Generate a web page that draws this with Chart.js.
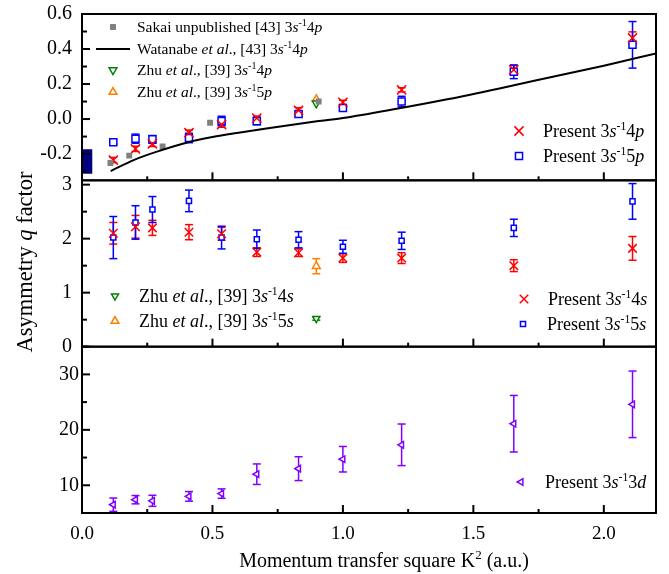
<!DOCTYPE html>
<html>
<head>
<meta charset="utf-8">
<script src="https://cdn.jsdelivr.net/npm/chart.js@4.4.0/dist/chart.umd.min.js"></script>
<style>
  body { margin: 0; background: #fff; }
  #wrap { width: 669px; height: 574px; }
</style>
</head>
<body>
<div id="wrap"><canvas id="chart" width="669" height="574"></canvas></div>
<script>
var FONT = '"Liberation Serif", "Times New Roman", serif';

// momentum transfer square K^2 (a.u.) of the present measurements
var kPresent = [0.12, 0.205, 0.27, 0.41, 0.535, 0.67, 0.83, 1.0, 1.225, 1.655, 2.11];

// top panel: 3s-1 np
var q4p = [-0.234, -0.17, -0.142, -0.078, -0.032, 0.005, 0.05, 0.095, 0.167, 0.281, 0.463];
var q4pErr = [0.015, 0.015, 0.015, 0.015, 0.015, 0.012, 0.015, 0.012, 0.012, 0.025, 0.035];
var q5p = [-0.133, -0.112, -0.116, -0.108, -0.011, -0.012, 0.029, 0.063, 0.1, 0.27, 0.424];
var q5pErr = [0.01, 0.026, 0.022, 0.027, 0.027, 0.02, 0.015, 0.01, 0.03, 0.039, 0.133];

var kSakai = [0.109, 0.181, 0.309, 0.491, 0.907];
var qSakai = [-0.251, -0.209, -0.156, -0.021, 0.1];

var kWatanabe = [0.11, 0.2, 0.3, 0.4, 0.5, 0.6, 0.7, 0.8, 0.9, 1.0, 1.2, 1.4, 1.6, 1.8, 2.0, 2.2];
var qWatanabe = [-0.297, -0.233, -0.18, -0.135, -0.103, -0.078, -0.055, -0.034, -0.013, 0.006, 0.057, 0.113, 0.175, 0.24, 0.305, 0.375];

var kZhu = [0.898];
var zhu4p = [0.09];
var zhu5p = [0.113];

// photoabsorption value at K^2 = 0 (range)
var kPhoto = [0.019];
var qPhotoRange = [[-0.31, -0.175]];

// middle panel: 3s-1 ns
var q4s = [2.1, 2.22, 2.2, 2.12, 2.09, 1.75, 1.74, 1.64, 1.64, 1.5, 1.82];
var q4sErr = [0.2, 0.21, 0.14, 0.14, 0.12, 0.08, 0.07, 0.08, 0.1, 0.11, 0.22];
var q5s = [2.02, 2.3, 2.54, 2.7, 2.02, 1.99, 1.98, 1.85, 1.96, 2.2, 2.69];
var q5sErr = [0.39, 0.31, 0.24, 0.2, 0.21, 0.17, 0.15, 0.12, 0.16, 0.16, 0.33];
var zhu4s = [0.52];
var zhu4sErr = [0.03];
var zhu5s = [1.49];
var zhu5sErr = [0.14];

// bottom panel: 3s-1 3d
var q3d = [6.5, 7.4, 7.2, 8.0, 8.5, 12.0, 13.0, 14.7, 17.3, 21.1, 24.6];
var q3dErr = [1.2, 0.75, 1.0, 0.87, 0.85, 1.85, 2.15, 2.3, 3.75, 5.1, 6.0];

var RED = '#ff0000', BLUE = '#0000ff', GRAY = '#808080', GREEN = '#008000',
    ORANGE = '#ff8000', VIOLET = '#8000ff', NAVY = '#000080';

function pts(xs, ys) {
    return xs.map(function (x, i) { return {x: x, y: ys[i]}; });
}

function marker(label, axis, xs, ys, color, style, radius, extra) {
    var ds = {
        type: 'scatter',
        label: label,
        yAxisID: axis,
        data: pts(xs, ys),
        borderColor: color,
        backgroundColor: '#fff',
        pointStyle: style,
        pointRadius: radius,
        pointBorderWidth: 1.5,
        pointRotation: 0
    };
    for (var k in extra) ds[k] = extra[k];
    return ds;
}

var datasets = [
    {
        type: 'bar', label: 'photo', yAxisID: 'yTop',
        data: kPhoto.map(function (x, i) { return {x: x, y: qPhotoRange[i]}; }),
        backgroundColor: NAVY, barThickness: 10, borderWidth: 0
    },
    {
        type: 'scatter', label: 'watanabe', yAxisID: 'yTop', showLine: true,
        data: pts(kWatanabe, qWatanabe), borderColor: '#000', borderWidth: 2,
        pointRadius: 0, cubicInterpolationMode: 'monotone'
    },
    marker('sakai', 'yTop', kSakai, qSakai, GRAY, 'rect', 4.2, {backgroundColor: GRAY, pointBorderWidth: 0}),
    marker('zhu4p', 'yTop', kZhu, zhu4p, GREEN, 'triangle', 4.5, {pointRotation: 180}),
    marker('zhu5p', 'yTop', kZhu, zhu5p, ORANGE, 'triangle', 4.5),
    marker('p4', 'yTop', kPresent, q4p, RED, 'crossRot', 6.5, {errorBars: q4pErr}),
    marker('p5', 'yTop', kPresent, q5p, BLUE, 'rect', 5, {errorBars: q5pErr}),

    marker('zhu4s', 'yMid', kZhu, zhu4s, GREEN, 'triangle', 4, {pointRotation: 180, errorBars: zhu4sErr}),
    marker('zhu5s', 'yMid', kZhu, zhu5s, ORANGE, 'triangle', 4.5, {errorBars: zhu5sErr}),
    marker('s4', 'yMid', kPresent, q4s, RED, 'crossRot', 6, {errorBars: q4sErr}),
    marker('s5', 'yMid', kPresent, q5s, BLUE, 'rect', 3.6, {errorBars: q5sErr}),

    marker('d3', 'yBot', kPresent, q3d, VIOLET, 'triangle', 3.8, {pointRotation: 270, errorBars: q3dErr})
];

// legend entries: which dataset, where, and the rich text
var legendItems = [
    {ds: 'sakai', x: 113, y: 27, size: 15.5, text: 'Sakai unpublished [43] 3<i>s</i><sup>-1</sup>4<i>p</i>'},
    {ds: 'watanabe', x: 113, y: 49, size: 15.5, text: 'Watanabe <i>et al</i>., [43] 3<i>s</i><sup>-1</sup>4<i>p</i>'},
    {ds: 'zhu4p', x: 113, y: 70, size: 15.5, text: 'Zhu <i>et al</i>., [39] 3<i>s</i><sup>-1</sup>4<i>p</i>'},
    {ds: 'zhu5p', x: 113, y: 92, size: 15.5, text: 'Zhu <i>et al</i>., [39] 3<i>s</i><sup>-1</sup>5<i>p</i>'},
    {ds: 'p4', x: 519, y: 131, size: 18, text: 'Present 3<i>s</i><sup>-1</sup>4<i>p</i>'},
    {ds: 'p5', x: 519, y: 156, size: 18, text: 'Present 3<i>s</i><sup>-1</sup>5<i>p</i>'},
    {ds: 'zhu4s', x: 115, y: 296, size: 18, text: 'Zhu <i>et al</i>., [39] 3<i>s</i><sup>-1</sup>4<i>s</i>'},
    {ds: 'zhu5s', x: 115, y: 321, size: 18, text: 'Zhu <i>et al</i>., [39] 3<i>s</i><sup>-1</sup>5<i>s</i>'},
    {ds: 's4', x: 524, y: 299, size: 18, text: 'Present 3<i>s</i><sup>-1</sup>4<i>s</i>'},
    {ds: 's5', x: 523, y: 324, size: 18, text: 'Present 3<i>s</i><sup>-1</sup>5<i>s</i>'},
    {ds: 'd3', x: 521, y: 482, size: 18, text: 'Present 3<i>s</i><sup>-1</sup>3<i>d</i>'}
];

function parseRich(str) {
    var out = [], re = /<(i|sup)>(.*?)<\/\1>|([^<]+)/g, m;
    while ((m = re.exec(str))) {
        if (m[3]) out.push({t: m[3], s: ''});
        else out.push({t: m[2], s: m[1]});
    }
    return out;
}

function richWidth(ctx, parts, size) {
    var w = 0;
    parts.forEach(function (p) {
        ctx.font = (p.s === 'i' ? 'italic ' : '') + (p.s === 'sup' ? size * 0.65 : size) + 'px ' + FONT;
        w += ctx.measureText(p.t).width;
    });
    return w;
}

// draws text on an alphabetic baseline starting at x
function drawRich(ctx, str, x, y, size) {
    var parts = parseRich(str);
    ctx.textBaseline = 'alphabetic';
    ctx.textAlign = 'left';
    parts.forEach(function (p) {
        var fs = p.s === 'sup' ? size * 0.65 : size;
        ctx.font = (p.s === 'i' ? 'italic ' : '') + fs + 'px ' + FONT;
        ctx.fillText(p.t, x, p.s === 'sup' ? y - size * 0.38 : y);
        x += ctx.measureText(p.t).width;
    });
}

function line(ctx, x1, y1, x2, y2) {
    ctx.beginPath();
    ctx.moveTo(x1, y1);
    ctx.lineTo(x2, y2);
    ctx.stroke();
}

var errorBars = {
    id: 'errorBars',
    beforeDatasetsDraw: function (chart) {
        var ctx = chart.ctx;
        ctx.save();
        ctx.lineWidth = 1.5;
        chart.data.datasets.forEach(function (ds, i) {
            if (!ds.errorBars) return;
            var meta = chart.getDatasetMeta(i);
            var ys = chart.scales[ds.yAxisID];
            ctx.strokeStyle = ds.borderColor;
            meta.data.forEach(function (pt, j) {
                var v = ds.data[j].y, e = ds.errorBars[j];
                var top = ys.getPixelForValue(v + e), bot = ys.getPixelForValue(v - e);
                line(ctx, pt.x, top, pt.x, bot);
                line(ctx, pt.x - 4, top, pt.x + 4, top);
                line(ctx, pt.x - 4, bot, pt.x + 4, bot);
            });
        });
        ctx.restore();
    }
};

var frames = {
    id: 'frames',
    afterDraw: function (chart) {
        var ctx = chart.ctx;
        var xs = chart.scales.x;
        ctx.save();
        ctx.strokeStyle = '#000';
        ctx.lineWidth = 2;
        ['yTop', 'yMid', 'yBot'].forEach(function (id) {
            var ys = chart.scales[id];
            ctx.strokeRect(xs.left, ys.top, xs.right - xs.left, ys.bottom - ys.top);
            ys.ticks.forEach(function (t) {
                var py = ys.getPixelForValue(t.value);
                line(ctx, xs.left, py, xs.left + (t.label !== '' ? 8 : 5), py);
            });
            xs.ticks.forEach(function (t) {
                var px = xs.getPixelForValue(t.value);
                line(ctx, px, ys.bottom, px, ys.bottom - (t.label !== '' ? 8 : 4));
            });
        });

        // legends
        legendItems.forEach(function (item) {
            var ds = chart.data.datasets.filter(function (d) { return d.label === item.ds; })[0];
            ctx.fillStyle = '#000';
            ctx.strokeStyle = ds.borderColor;
            if (ds.showLine) {
                ctx.lineWidth = ds.borderWidth;
                line(ctx, item.x - 17, item.y, item.x + 17, item.y);
            } else {
                ctx.fillStyle = ds.backgroundColor;
                ctx.lineWidth = ds.pointBorderWidth;
                Chart.helpers.drawPoint(ctx, {
                    pointStyle: ds.pointStyle, radius: ds.pointRadius,
                    rotation: ds.pointRotation, borderWidth: ds.pointBorderWidth
                }, item.x, item.y);
            }
            ctx.fillStyle = '#000';
            drawRich(ctx, item.text, item.x + 24, item.y + item.size * 0.33, item.size);
        });

        // axis titles
        ctx.fillStyle = '#000';
        var xt = 'Momentum transfer square K<sup>2</sup> (a.u.)';
        var xw = richWidth(ctx, parseRich(xt), 20);
        drawRich(ctx, xt, 384 - xw / 2, 567, 20);

        var yt = 'Asymmetry <i>q</i> factor';
        var yw = richWidth(ctx, parseRich(yt), 22.5);
        ctx.translate(32, 262);
        ctx.rotate(-Math.PI / 2);
        drawRich(ctx, yt, -yw / 2, 0, 22.5);
        ctx.restore();
    }
};

function yAxis(min, max, step, labelEvery, digits, pad) {
    return {
        type: 'linear', position: 'left', stack: 'panels', stackWeight: 1,
        min: min, max: max, offset: false,
        grid: {display: false, drawTicks: false}, border: {display: false},
        ticks: {
            stepSize: step, includeBounds: false, autoSkip: false,
            color: '#000', padding: pad, font: {family: FONT, size: 20},
            callback: function (v) {
                var r = v / labelEvery;
                if (Math.abs(r - Math.round(r)) > 1e-6) return '';
                return v.toFixed(digits);
            }
        },
        afterFit: function (s) {
            s.width = 82;
            s.paddingTop = 0;
            s.paddingBottom = 0;
        }
    };
}

var ctx = document.getElementById('chart').getContext('2d');
var chart = new Chart(ctx, {
    type: 'scatter',
    data: {datasets: datasets},
    plugins: [errorBars, frames],
    options: {
        responsive: false,
        animation: false,
        events: [],
        layout: {padding: {left: 0, right: 13, top: 14, bottom: 0}},
        plugins: {legend: {display: false}, tooltip: {enabled: false}},
        scales: {
            x: {
                type: 'linear', position: 'bottom', min: 0, max: 2.2, offset: false,
                grid: {display: false, drawTicks: false}, border: {display: false},
                ticks: {
                    stepSize: 0.25, includeBounds: false, autoSkip: false, maxRotation: 0,
                    color: '#000', padding: 10, font: {family: FONT, size: 19},
                    callback: function (v) {
                        var r = v / 0.5;
                        if (Math.abs(r - Math.round(r)) > 1e-6) return '';
                        return v.toFixed(1);
                    }
                },
                afterFit: function (s) {
                    s.height = 61;
                    s.paddingLeft = 0;
                    s.paddingRight = 0;
                }
            },
            // stacked left axes are laid out last-defined on top
            yBot: yAxis(5, 35, 5, 10, 0, 3),
            yMid: yAxis(0, 3.08, 0.5, 1, 0, 10),
            yTop: yAxis(-0.35, 0.6, 0.1, 0.2, 1, 10)
        }
    }
});
</script>
</body>
</html>
